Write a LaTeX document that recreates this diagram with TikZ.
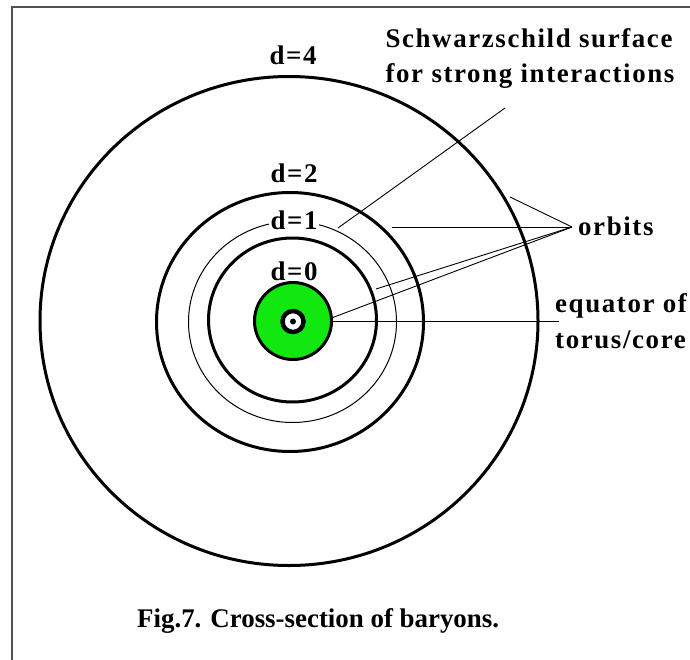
\documentclass[tikz,border=0pt]{standalone}
\usepackage{fontspec}
\setmainfont{Liberation Serif}
\newfontfamily\lblfont[LetterSpace=6]{Liberation Serif}
\newfontfamily\capfont{Liberation Serif}
\definecolor{coregreen}{RGB}{16,232,16}
\definecolor{framegray}{RGB}{80,80,80}
\begin{document}
\begin{tikzpicture}[x=1bp,y=-1bp,
  lbl/.style={font={\lblfont\bfseries\fontsize{27}{32}\selectfont}, inner sep=0pt},
  caplbl/.style={font={\capfont\bfseries\fontsize{27}{32}\selectfont}, inner sep=0pt},
  ringthick/.style={line width=3bp},
  ringthin/.style={line width=1bp},
  leader/.style={line width=0.9bp},
  framestyle/.style={draw=framegray, line width=2bp}]
\useasboundingbox (0,0) rectangle (690,660);
\fill[white] (0,0) rectangle (690,660);
% frame (cropped at right and bottom)
\draw[framestyle] (11.5,660) -- (11.5,7) -- (690,7);

% rings
\draw[ringthick] (289,321) ellipse [x radius=249, y radius=244.5];
\draw[ringthick] (290,322) ellipse [x radius=133.5, y radius=129.5];
\draw[ringthin]  (292.5,322) ellipse [x radius=104, y radius=100.5];
\draw[ringthick] (292.5,320) ellipse [x radius=84, y radius=82];

% core
\node[circle, draw, line width=3bp, fill=coregreen, minimum size=77bp, inner sep=0pt] (core) at (293,321) {};
\node[circle, draw, line width=4.5bp, fill=white, minimum size=21bp, inner sep=0pt] (hole) at (293,321.5) {};
\node[circle, fill=black, minimum size=6bp, inner sep=0pt] (dot) at (293,321.5) {};

% d labels
\node[lbl, anchor=base] (d4) at (293,65) {d=4};
\node[lbl, anchor=base] (d2) at (294,182) {d=2};
\node[lbl, anchor=base, fill=white, inner xsep=2bp] (d1) at (294,229) {d=1};
\node[lbl, anchor=base] (d0) at (294,280) {d=0};

% annotation texts
\node[lbl, anchor=base] (schw1) at (529,48) {Schwarzschild surface};
\node[lbl, anchor=base] (schw2) at (530,83) {for strong interactions};
\node[lbl, anchor=base west] (orb) at (578,235) {orbits};
\node[lbl, anchor=base west] (eq1) at (555,312) {equator of};
\node[lbl, anchor=base west] (eq2) at (555,348) {torus/core};
\node[caplbl, anchor=base west] (cap) at (137,627) {Fig.7. Cross-section of baryons.};

% leader end points
\coordinate (sch) at (505,108);
\coordinate (s1) at (338,228);
\coordinate (otip) at (572,227);
\coordinate (o4) at (510,197);
\coordinate (o2) at (392,227);
\coordinate (o0) at (376,289);
\coordinate (eqR) at (559,321);

% leaders
\draw[leader] (sch) -- (s1);
\draw[leader] (otip) -- (o4);
\draw[leader] (otip) -- (o2);
\draw[leader] (otip) -- (o0);
\draw[leader] (otip) -- (core.5);
\draw[leader] (core.east) -- (eqR);
\end{tikzpicture}
\end{document}
